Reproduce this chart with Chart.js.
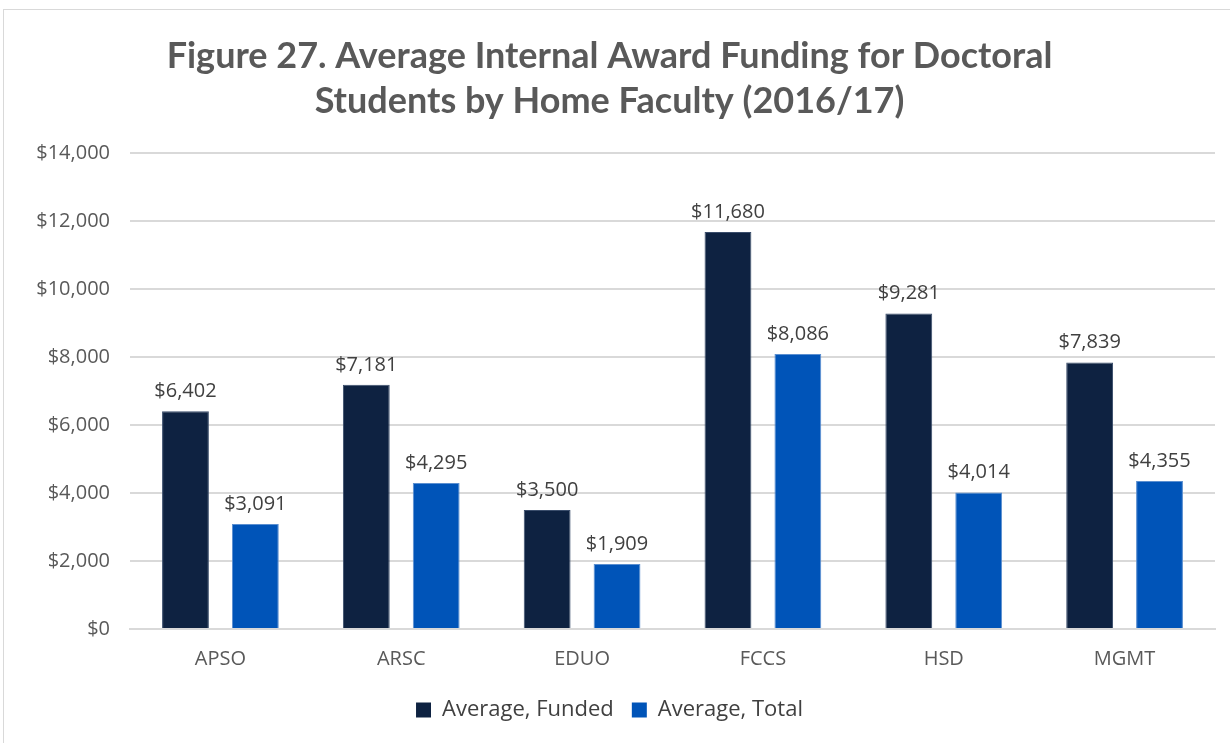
<!doctype html>
<html>
<head>
<meta charset="utf-8">
<title>Figure 27</title>
<script src="https://cdn.jsdelivr.net/npm/chart.js@4"></script>
<style>
  body{margin:0;background:#fff;width:1230px;height:743px;overflow:hidden;position:relative}
  .frame{position:absolute;left:3px;top:9px;width:1240px;height:740px;border:1px solid #d9d9d9;box-sizing:border-box}
  .wrap{position:absolute;left:4px;top:10px;width:1226px;height:733px}
</style>
</head>
<body>
<div class="frame"></div>
<div class="wrap"><canvas id="c" width="1226" height="733"></canvas></div>
<script>
// chart data
const categories = ['APSO', 'ARSC', 'EDUO', 'FCCS', 'HSD', 'MGMT'];
const avgFunded = [6402, 7181, 3500, 11680, 9281, 7839];
const avgTotal = [3091, 4295, 1909, 8086, 4014, 4355];
const seriesNames = ['Average, Funded', 'Average, Total'];
const yTicks = [0, 2000, 4000, 6000, 8000, 10000, 12000, 14000];

const FONT = '"Open Sans", sans-serif';
const money = v => '$' + v.toLocaleString('en-US');

// draws the value above each bar
const barLabels = {
  id: 'barLabels',
  afterDatasetsDraw(chart) {
    const ctx = chart.ctx;
    ctx.save();
    ctx.font = '20px ' + FONT;
    ctx.fillStyle = '#404040';
    ctx.textAlign = 'center';
    ctx.textBaseline = 'bottom';
    chart.data.datasets.forEach((ds, i) => {
      chart.getDatasetMeta(i).data.forEach((bar, j) => {
        ctx.fillText(money(ds.data[j]), bar.x, bar.y - 10);
      });
    });
    ctx.restore();
  }
};

new Chart(document.getElementById('c'), {
  type: 'bar',
  data: {
    labels: categories,
    datasets: [
      { label: seriesNames[0], data: avgFunded, backgroundColor: '#0e2241', borderColor: '#3a4d6b', borderWidth: 1 },
      { label: seriesNames[1], data: avgTotal, backgroundColor: '#0054b8', borderColor: '#5b8fd0', borderWidth: 1 }
    ]
  },
  options: {
    responsive: false,
    animation: false,
    devicePixelRatio: 1,
    layout: { padding: { top: 24, right: 15, bottom: 12, left: 0 } },
    datasets: { bar: { categoryPercentage: 0.773, barPercentage: 0.67 } },
    plugins: {
      title: {
        display: true,
        text: ['Figure 27. Average Internal Award Funding for Doctoral', 'Students by Home Faculty (2016/17)'],
        color: '#595959',
        font: { family: 'Lato, sans-serif', size: 36, weight: 'bold', lineHeight: 1.25 },
        padding: { top: 0, bottom: 29 }
      },
      legend: {
        position: 'bottom',
        labels: {
          color: '#404040',
          font: { family: FONT, size: 22 },
          boxWidth: 15, boxHeight: 15, padding: 18,
          generateLabels(chart) {
            return chart.data.datasets.map((d, i) => ({
              text: d.label, fillStyle: d.backgroundColor, strokeStyle: d.backgroundColor,
              lineWidth: 0, datasetIndex: i, fontColor: '#404040'
            }));
          }
        }
      },
      tooltip: { enabled: false }
    },
    scales: {
      x: {
        grid: { display: false },
        border: { display: true, color: '#d9d9d9', width: 2 },
        ticks: { color: '#595959', font: { family: FONT, size: 20 }, padding: 10 }
      },
      y: {
        min: 0, max: 14000,
        afterBuildTicks(axis) { axis.ticks = yTicks.map(v => ({ value: v })); },
        afterFit(axis) { axis.width = 126; },
        grid: { color: '#d9d9d9', lineWidth: 2, drawTicks: false },
        border: { display: false },
        ticks: { color: '#595959', font: { family: FONT, size: 20 }, padding: 20, callback: v => money(v) }
      }
    }
  },
  plugins: [barLabels]
});
</script>
</body>
</html>
